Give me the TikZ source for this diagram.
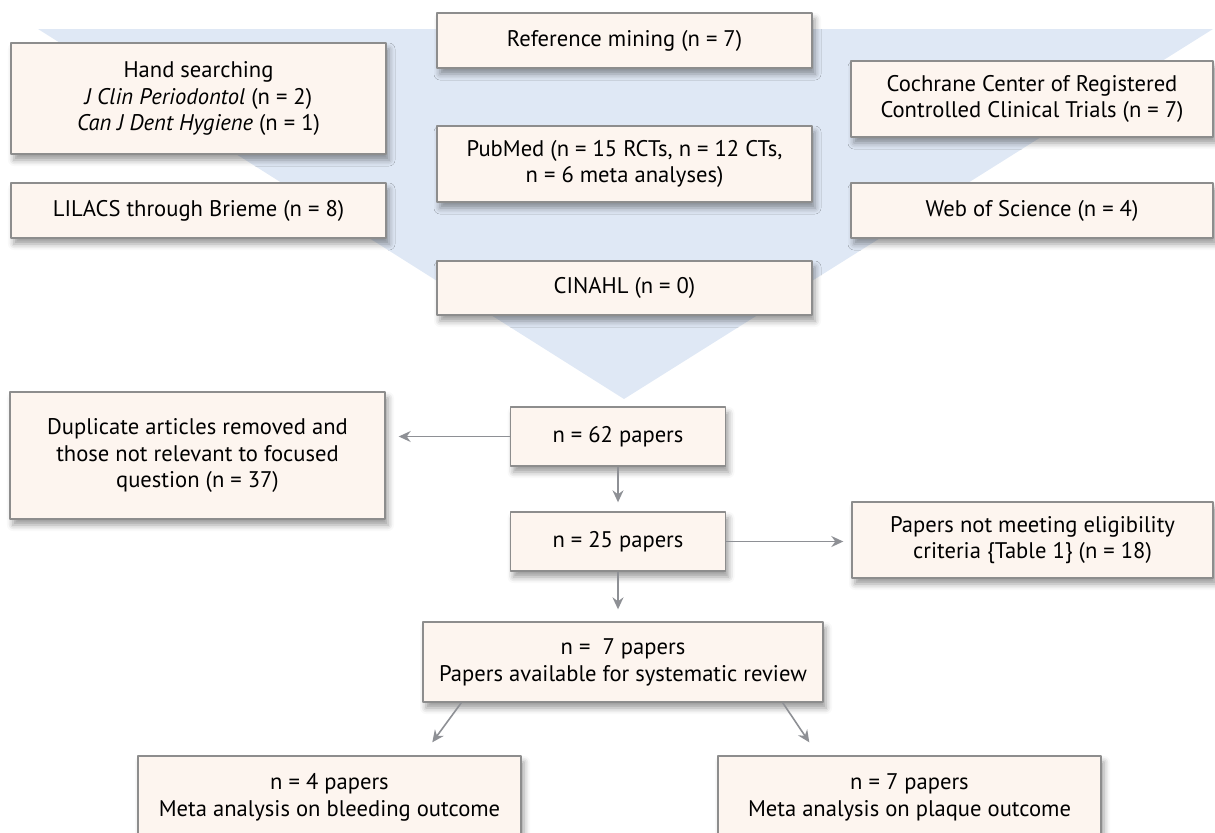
\documentclass[tikz,border=0pt]{standalone}
\usepackage{fontspec}
\setmainfont{PT Sans}
\usetikzlibrary{arrows.meta,calc,shadows.blur}
\definecolor{boxfill}{HTML}{FDF5EF}
\definecolor{boxline}{HTML}{8D8D8D}
\definecolor{funnelblue}{HTML}{DFE8F5}
\definecolor{arrowgray}{HTML}{8E9095}

\begin{document}
\begin{tikzpicture}[
        x=0.5pt, y=-0.5pt,
        line join=round,
        font=\fontsize{11.3}{13.4}\selectfont,
        box/.style={
            draw=boxline, fill=boxfill, line width=0.7pt,
            align=center, inner sep=0pt,
            blur shadow={shadow xshift=1.5pt, shadow yshift=-3pt,
                shadow blur radius=3pt, shadow opacity=40}
        },
        size/.style 2 args={minimum width=#1, minimum height=#2},
        arr/.style={
            draw=arrowgray, line width=0.8pt,
            -{Stealth[length=6pt, width=5.5pt, inset=2pt]}
        }
    ]
    \useasboundingbox (0,0) rectangle (1215,832);

    % funnel behind the search sources
    \path (38,29) coordinate (funnel-left)
        (1213,29) coordinate (funnel-right)
        (624,399) coordinate (funnel-tip);
    \fill[funnelblue] (funnel-left) -- (funnel-right) -- (funnel-tip) -- cycle;

    % sources
    \node[box, size={187.5pt}{27.5pt}] (refmining) at (624.5,40.5) {Reference mining (n = 7)};
    \node[box, size={187.5pt}{38pt}] (pubmed) at (624.5,164) {PubMed (n = 15 RCTs, n = 12 CTs,\\ n = 6 meta analyses)};
    \node[box, size={187.5pt}{27pt}] (cinahl) at (624.5,288) {CINAHL (n = 0)};
    \node[box, size={187.5pt}{55.5pt}] (handsearch) at (198.5,98.5) {Hand searching\\ \textit{J Clin Periodontol} (n = 2)\\ \textit{Can J Dent Hygiene} (n = 1)};
    \node[box, size={187.5pt}{27.5pt}] (lilacs) at (198.5,210.5) {LILACS through Brieme (n = 8)};
    \node[box, size={181pt}{38pt}] (cochrane) at (1032,99) {Cochrane Center of Registered\\ Controlled Clinical Trials (n = 7)};
    \node[box, size={181pt}{27.5pt}] (wos) at (1032,210.5) {Web of Science (n = 4)};

    % selection
    \node[box, size={107.5pt}{29.5pt}] (papers62) at (618,436.5) {n = 62 papers};
    \node[box, size={187.5pt}{63.5pt}] (removed) at (197.5,455.5) {Duplicate articles removed and\\ those not relevant to focused\\ question (n = 37)};
    \node[box, size={107.5pt}{29.5pt}] (papers25) at (618,541.5) {n = 25 papers};
    \node[box, size={180.5pt}{38pt}] (excluded) at (1032.5,540) {Papers not meeting eligibility\\ criteria \{Table 1\} (n = 18)};
    \node[box, size={200pt}{40pt}] (papers7) at (623,662) {n = \ 7 papers\\ Papers available for systematic review};
    \node[box, size={191.5pt}{41pt}] (bleeding) at (329.5,797) {n = 4 papers\\ Meta analysis on bleeding outcome};
    \node[box, size={191.5pt}{41pt}] (plaque) at (909.5,797) {n = 7 papers\\ Meta analysis on plaque outcome};

    \draw[arr, shorten >=6.5pt] (papers62.west) -- (removed.east |- papers62.west);
    \draw[arr, shorten >=4.5pt] (papers62.south) -- (papers25.north);
    \draw[arr, shorten >=4pt] (papers25.east) -- (excluded.west |- papers25.east);
    \draw[arr, shorten >=6pt] (papers25.south) -- (papers25.south |- papers7.north);
    \draw[arr] ($(papers7.south west)+(39,0)$) -- ($(bleeding.north west)+(295,-13)$);
    \draw[arr] ($(papers7.south east)+(-41,0)$) -- ($(plaque.north west)+(92,-13)$);
\end{tikzpicture}
\end{document}
